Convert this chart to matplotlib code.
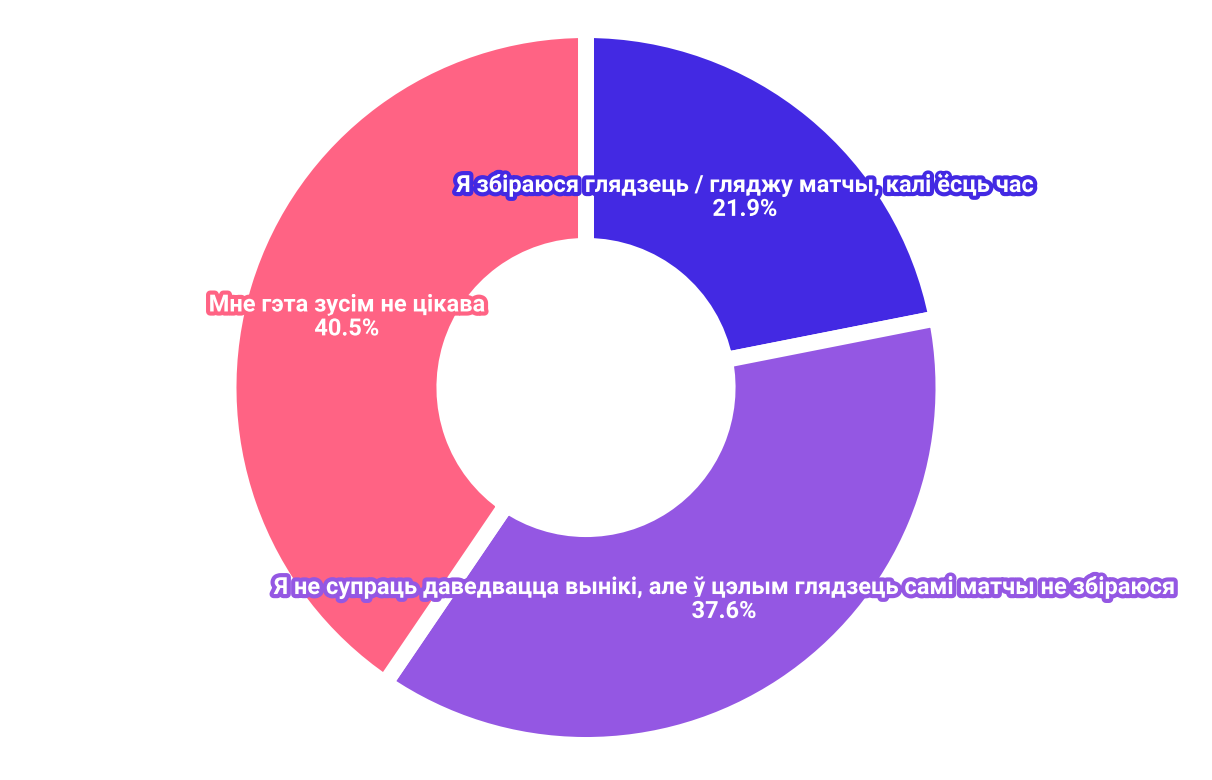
import matplotlib.pyplot as plt
import matplotlib.patheffects as pe
import numpy as np

labels = ['Я збіраюся глядзець / гляджу матчы, калі ёсць час',
          'Я не супраць даведвацца вынікі, але ў цэлым глядзець самі матчы не збіраюся',
          'Мне гэта зусім не цікава']
values = [21.9, 37.6, 40.5]
colors = ['#4329E3', '#9457E3', '#FF6384']

W, H = 1212, 780
cx, cy = 586, 387.5
R = 357.5  # px, outer radius incl. white edge

fig = plt.figure(figsize=(W / 100, H / 100), dpi=100)
ax = fig.add_axes([0, 0, 1, 1])

wedges, _ = ax.pie(values, colors=colors, startangle=90, counterclock=False,
                   radius=1.0,
                   wedgeprops=dict(width=0.604, edgecolor='white', linewidth=11.5))

ax.set_xlim(-cx / R, (W - cx) / R)
ax.set_ylim(-(H - cy) / R, cy / R)
ax.set_aspect('equal', adjustable='datalim')
ax.axis('off')

# labels in the middle of the ring
total = sum(values)
start = 90.0
for lab, v, c in zip(labels, values, colors):
    mid = np.deg2rad(start - v / total * 360 / 2)
    start -= v / total * 360
    r = 0.70
    ax.text(r * np.cos(mid), r * np.sin(mid) - 3 / R, f'{lab}\n{v}%',
            ha='center', va='center', fontsize=17, fontweight='bold',
            family='Roboto', color='white', linespacing=1.05, zorder=10,
            path_effects=[pe.withStroke(linewidth=6, foreground=c)])

fig.savefig('out.png', dpi=100, facecolor='white')
